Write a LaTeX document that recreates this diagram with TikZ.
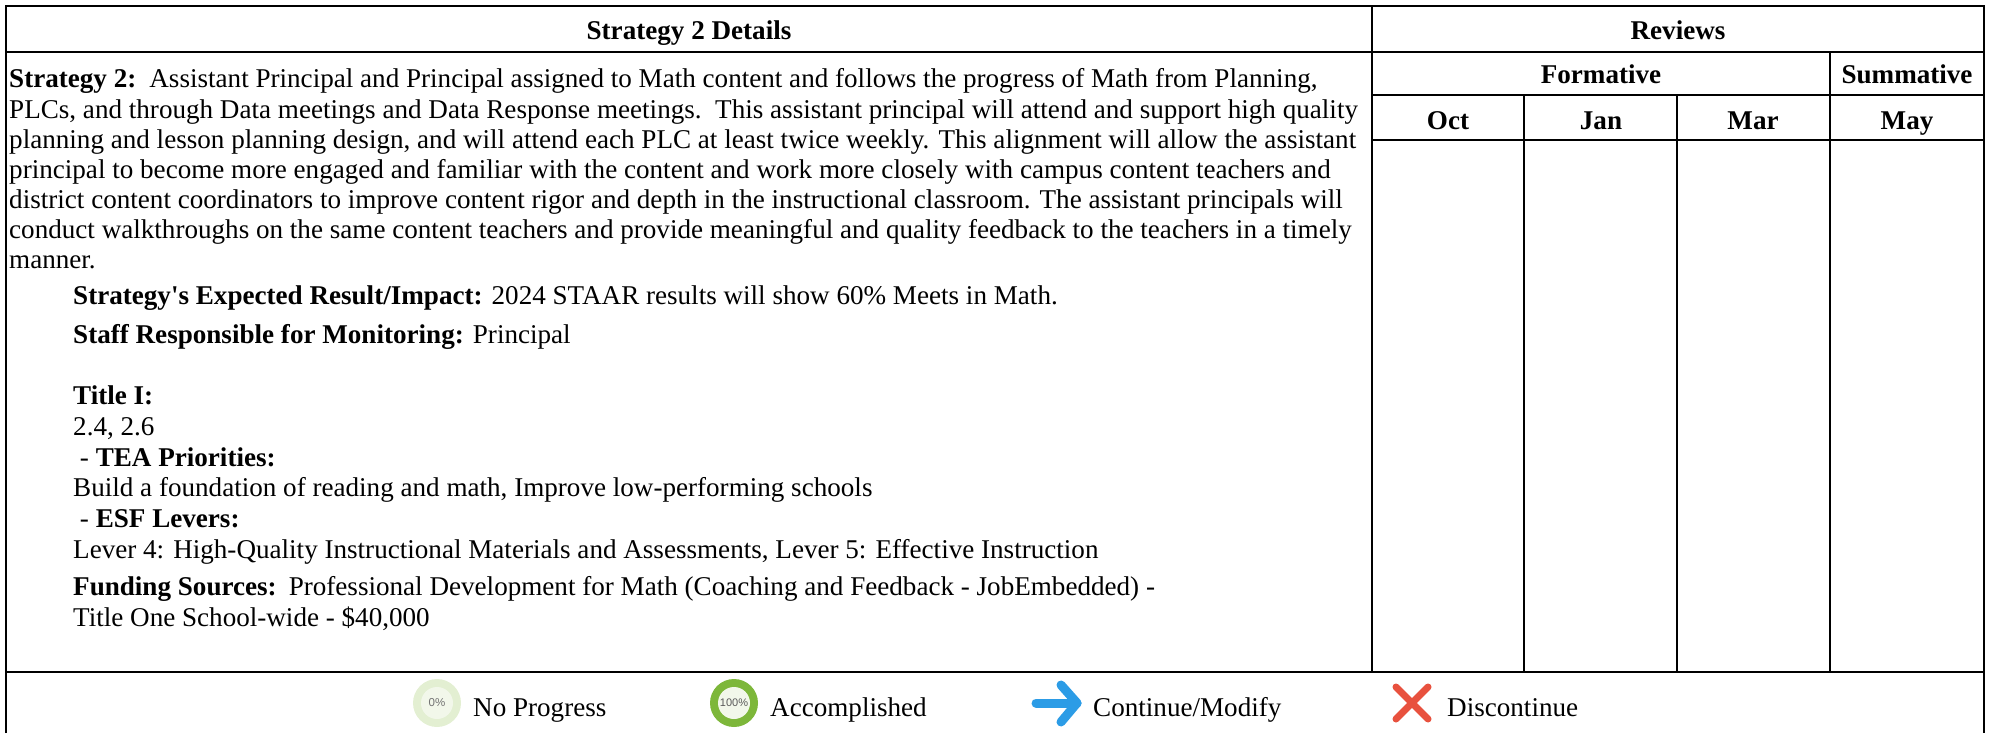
\documentclass[tikz,border=0pt]{standalone}
\usepackage{fontspec}
\setmainfont{Liberation Serif}[Ligatures=ResetAll]
\newfontfamily\uisans{Liberation Sans}
\font\straightbold="Liberation Serif/B" at 27.1pt
\definecolor{lightgreen}{HTML}{E3EFD2}
\definecolor{palegreen}{HTML}{F2F7EA}
\definecolor{donegreen}{HTML}{7DB73A}
\definecolor{arrowblue}{HTML}{2C9CE6}
\definecolor{crossred}{HTML}{E8513E}
\tikzset{
  body/.style={inner sep=0pt,anchor=base west,font=\fontsize{27.1}{30}\selectfont},
  legendtext/.style={inner sep=0pt,anchor=base west,font=\fontsize{27.1}{30}\selectfont},
  head/.style={inner sep=0pt,anchor=base,font=\fontsize{27.1}{30}\selectfont\bfseries},
  rule/.style={line width=2.6pt,black},
  barshaft/.style={line width=9pt,line cap=round,line join=round},
}
\begin{document}
\begin{tikzpicture}[x=1pt,y=-1pt]
\useasboundingbox (0,0) rectangle (1993,733);
% frame and rules
\draw[rule] (6,733) -- (6,6) -- (1984,6) -- (1984,733);
\draw[rule] (6,52) -- (1984,52);
\draw[rule] (1372,95) -- (1984,95);
\draw[rule] (1372,140) -- (1984,140);
\draw[rule] (6,672) -- (1984,672);
\draw[rule] (1372,6) -- (1372,672);
\draw[rule] (1524,95) -- (1524,672);
\draw[rule] (1677,95) -- (1677,672);
\draw[rule] (1830,52) -- (1830,672);
% headings
\node[head] (h1) at (689,40) {Strategy 2 Details};
\node[head] (h2) at (1678,40) {Reviews};
\node[head] (h3) at (1601,84) {Formative};
\node[head] (h4) at (1907,84) {Summative};
\node[head] (h5) at (1448,129) {Oct};
\node[head] (h6) at (1601,129) {Jan};
\node[head] (h7) at (1753,129) {Mar};
\node[head] (h8) at (1907,129) {May};
% strategy text
\node[body] (l1) at (9,88) {\textbf{Strategy 2:}\hspace{4pt} Assistant Principal and Principal assigned to Math content and follows the progress of Math from Planning,};
\node[body] (l2) at (9,118) {PLCs, and through Data meetings and Data Response meetings.\ \ This assistant principal will attend and support high quality};
\node[body] (l3) at (9,148) {planning and lesson planning design, and will attend each PLC at least twice weekly. This alignment will allow the assistant};
\node[body] (l4) at (9,178) {principal to become more engaged and familiar with the content and work more closely with campus content teachers and};
\node[body] (l5) at (9,208) {district content coordinators to improve content rigor and depth in the instructional classroom. The assistant principals will};
\node[body] (l6) at (9,238) {conduct walkthroughs on the same content teachers and provide meaningful and quality feedback to the teachers in a timely};
\node[body] (l7) at (9,268) {manner.};
\node[body] (l8) at (73,304) {\textbf{Strategy{\straightbold'}s Expected Result/Impact:} 2024 STAAR results will show 60\% Meets in Math.};
\node[body] (l9) at (73,343) {\textbf{Staff Responsible for Monitoring:} Principal};
\node[body] (l10) at (73,404) {\textbf{Title I:}};
\node[body] (l11) at (73,435) {2.4, 2.6};
\node[body] (l12) at (73,466) {\ - \textbf{TEA Priorities:}};
\node[body] (l13) at (73,496) {Build a foundation of reading and math, Improve low-performing schools};
\node[body] (l14) at (73,527) {\ - \textbf{ESF Levers:}};
\node[body] (l15) at (73,558) {Lever 4: High-Quality Instructional Materials and Assessments, Lever 5: Effective Instruction};
\node[body] (l16) at (73,595) {\textbf{Funding Sources:}\hspace{3pt} Professional Development for Math (Coaching and Feedback - JobEmbedded) -};
\node[body] (l17) at (73,626) {Title One School-wide - \$40,000};
% legend
\fill[lightgreen] (437,703) circle (24);
\fill[palegreen] (437,703) circle (16);
\node[inner sep=0pt,text=black!55,font=\uisans\fontsize{11.5}{12}\selectfont] (p0) at (437,703) {0\%};
\node[legendtext] (t1) at (473,716) {No Progress};
\fill[donegreen] (734,703) circle (24);
\fill[palegreen] (734,703) circle (16);
\node[inner sep=0pt,text=black!65,font=\uisans\fontsize{11}{12}\selectfont] (p1) at (734,703) {100\%};
\node[legendtext] (t2) at (770,716) {Accomplished};
\coordinate (as) at (1036,703); \coordinate (ae) at (1077,703);
\coordinate (au) at (1061,685); \coordinate (ad) at (1061,722);
\draw[arrowblue,barshaft] (as) -- (ae);
\draw[arrowblue,barshaft] (au) -- (ae) -- (ad);
\node[legendtext] (t3) at (1093,716) {Continue/Modify};
\coordinate (x1) at (1396,687); \coordinate (x2) at (1428,719);
\coordinate (x3) at (1428,687); \coordinate (x4) at (1396,719);
\draw[crossred,line width=7pt,line cap=round] (x1) -- (x2);
\draw[crossred,line width=7pt,line cap=round] (x3) -- (x4);
\node[legendtext] (t4) at (1447,716) {Discontinue};
\end{tikzpicture}
\end{document}
